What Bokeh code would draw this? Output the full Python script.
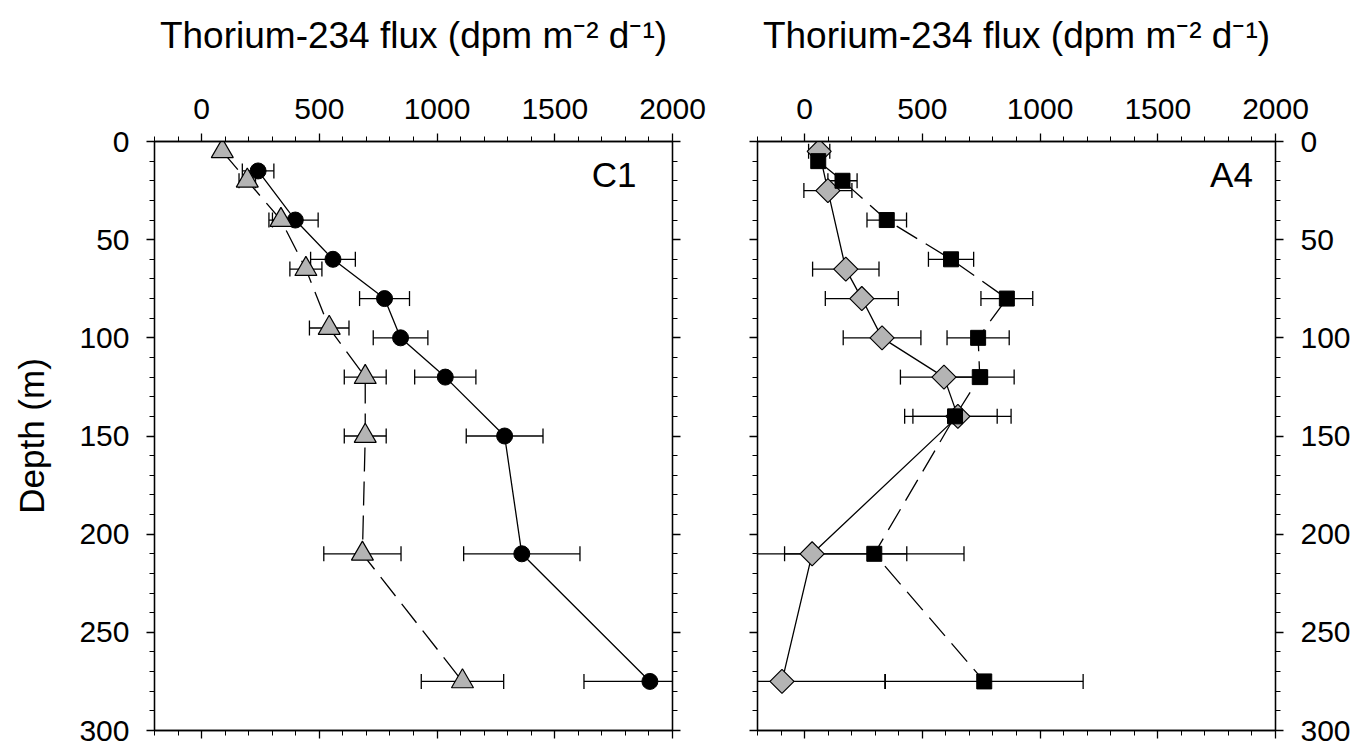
import numpy as np
from bokeh.plotting import figure
from bokeh.layouts import row
from bokeh.models import Range1d, LinearAxis, FixedTicker, Label, CustomLabelingPolicy
from bokeh.embed import file_html
from bokeh.resources import INLINE

FONT = "Liberation Sans"
GRAY = "#b4b4b4"

# Station C1: circles (solid line) and triangles (dashed line)
c1_circle_depth = [15, 40, 60, 80, 100, 120, 150, 210, 275]
c1_circle_flux = [240, 398, 558, 777, 845, 1035, 1287, 1360, 1904]
c1_circle_err = [67, 97, 95, 106, 116, 130, 163, 247, 280]

c1_tri_depth = [5, 20, 40, 65, 95, 120, 150, 210, 275]
c1_tri_flux = [88, 194, 337, 443, 542, 695, 695, 683, 1108]
c1_tri_err = [0, 35, 51, 68, 84, 89, 89, 164, 175]

# Station A4: diamonds (solid line) and squares (dashed line)
a4_dia_depth = [5, 25, 65, 80, 100, 120, 140, 210, 275]
a4_dia_flux = [62, 99, 175, 243, 329, 592, 651, 32, -96]
a4_dia_err = [45, 102, 141, 155, 165, 185, 226, 402, 437]

a4_sq_depth = [10, 20, 40, 60, 80, 100, 120, 140, 210, 275]
a4_sq_flux = [58, 161, 349, 622, 859, 737, 744, 639, 296, 763]
a4_sq_err = [0, 62, 84, 96, 110, 132, 146, 179, 381, 420]

x_major = [0, 500, 1000, 1500, 2000]
y_major = [0, 50, 100, 150, 200, 250, 300]
x_title = "Thorium-234 flux (dpm m\u207b\u00b2 d\u207b\u00b9)"


def style_axis(ax, show_labels):
    ax.axis_line_color = "black"
    ax.axis_line_width = 1.3
    ax.major_tick_line_color = "black"
    ax.minor_tick_line_color = "black"
    ax.major_tick_line_width = 1.3
    ax.minor_tick_line_width = 1.0
    ax.major_tick_in = 0
    ax.major_tick_out = 8
    ax.minor_tick_in = 0
    ax.minor_tick_out = 5
    ax.major_label_text_font = FONT
    ax.major_label_text_color = "black"
    ax.axis_label_text_font = FONT
    ax.axis_label_text_font_style = "normal"
    ax.axis_label_text_color = "black"
    if show_labels:
        ax.major_label_text_font_size = "30px"
        ax.major_label_standoff = 15
    else:
        # tick marks only on this side: no label space and no labels drawn
        ax.major_label_text_font_size = "0px"
        ax.major_label_standoff = 0
        ax.major_label_policy = CustomLabelingPolicy(code="""
            const all = [...indices]
            for (const i of all) indices.unset(i)
            return indices
        """)


def x_ticker():
    return FixedTicker(ticks=x_major, minor_ticks=list(range(-200, 2001, 100)))


def y_ticker():
    return FixedTicker(ticks=y_major, minor_ticks=list(range(0, 301, 10)))


def make_panel(width, left, right, top, bottom, label_left):
    p = figure(width=width, height=750,
               x_range=Range1d(-200, 2000), y_range=Range1d(300, 0),
               x_axis_location=None, y_axis_location=None,
               output_backend="svg", toolbar_location=None,
               min_border_left=left, min_border_right=right,
               min_border_top=top, min_border_bottom=bottom)
    p.xgrid.visible = False
    p.ygrid.visible = False
    p.outline_line_color = "black"
    p.outline_line_width = 1.3
    p.background_fill_color = "white"
    p.border_fill_color = "white"

    top_ax = LinearAxis(ticker=x_ticker())
    style_axis(top_ax, True)
    top_ax.axis_label = x_title
    top_ax.axis_label_text_font_size = "37px"
    top_ax.axis_label_standoff = 40
    p.add_layout(top_ax, "above")

    bot_ax = LinearAxis(ticker=x_ticker())
    style_axis(bot_ax, False)
    p.add_layout(bot_ax, "below")

    left_ax = LinearAxis(ticker=y_ticker())
    style_axis(left_ax, label_left)
    right_ax = LinearAxis(ticker=y_ticker())
    style_axis(right_ax, not label_left)
    if label_left:
        left_ax.axis_label = "Depth (m)"
        left_ax.axis_label_text_font_size = "35px"
        left_ax.axis_label_standoff = 25
        left_ax.major_label_standoff = 17
    else:
        right_ax.major_label_standoff = 17
    p.add_layout(left_ax, "left")
    p.add_layout(right_ax, "right")
    return p


def error_bars(p, flux, depth, err):
    flux = np.asarray(flux, dtype=float)
    depth = np.asarray(depth, dtype=float)
    err = np.asarray(err, dtype=float)
    has = err > 0
    p.segment(x0=flux[has] - err[has], y0=depth[has], x1=flux[has] + err[has], y1=depth[has],
              line_color="black", line_width=1.3)
    cap_x = np.concatenate([flux[has] - err[has], flux[has] + err[has]])
    cap_y = np.concatenate([depth[has], depth[has]])
    p.scatter(x=cap_x, y=cap_y, marker="dash", angle=np.pi / 2, size=15,
              line_color="black", line_width=1.3)


# Left panel: C1
p1 = make_panel(714, 154, 42, 141, 17, True)
p1.line(c1_circle_flux, c1_circle_depth, line_color="black", line_width=1.3)
p1.line(c1_tri_flux, c1_tri_depth, line_color="black", line_width=1.3, line_dash="24 10")
error_bars(p1, c1_circle_flux, c1_circle_depth, c1_circle_err)
error_bars(p1, c1_tri_flux, c1_tri_depth, c1_tri_err)
p1.scatter(c1_circle_flux, c1_circle_depth, marker="circle", size=16,
           fill_color="black", line_color="black")
p1.scatter(c1_tri_flux, c1_tri_depth, marker="triangle", size=22,
           fill_color=GRAY, line_color="black", line_width=1.2)
p1.add_layout(Label(x=1847, y=17, text="C1", text_align="right", text_baseline="alphabetic",
                    text_font=FONT, text_font_size="35px", text_color="black"))

# Right panel: A4
p2 = make_panel(644, 43, 83, 138, 20, False)
p2.line(a4_dia_flux, a4_dia_depth, line_color="black", line_width=1.3)
p2.line(a4_sq_flux, a4_sq_depth, line_color="black", line_width=1.3, line_dash="24 10")
error_bars(p2, a4_dia_flux, a4_dia_depth, a4_dia_err)
error_bars(p2, a4_sq_flux, a4_sq_depth, a4_sq_err)
p2.scatter(a4_dia_flux, a4_dia_depth, marker="square", angle=np.pi / 4, size=17,
           fill_color=GRAY, line_color="black", line_width=1.2)
p2.scatter(a4_sq_flux, a4_sq_depth, marker="square", size=15,
           fill_color="black", line_color="black")
p2.add_layout(Label(x=1904, y=17, text="A4", text_align="right", text_baseline="alphabetic",
                    text_font=FONT, text_font_size="35px", text_color="black"))

layout = row(p1, p2, spacing=0)
open("out.html", "w").write(file_html(layout, INLINE))
